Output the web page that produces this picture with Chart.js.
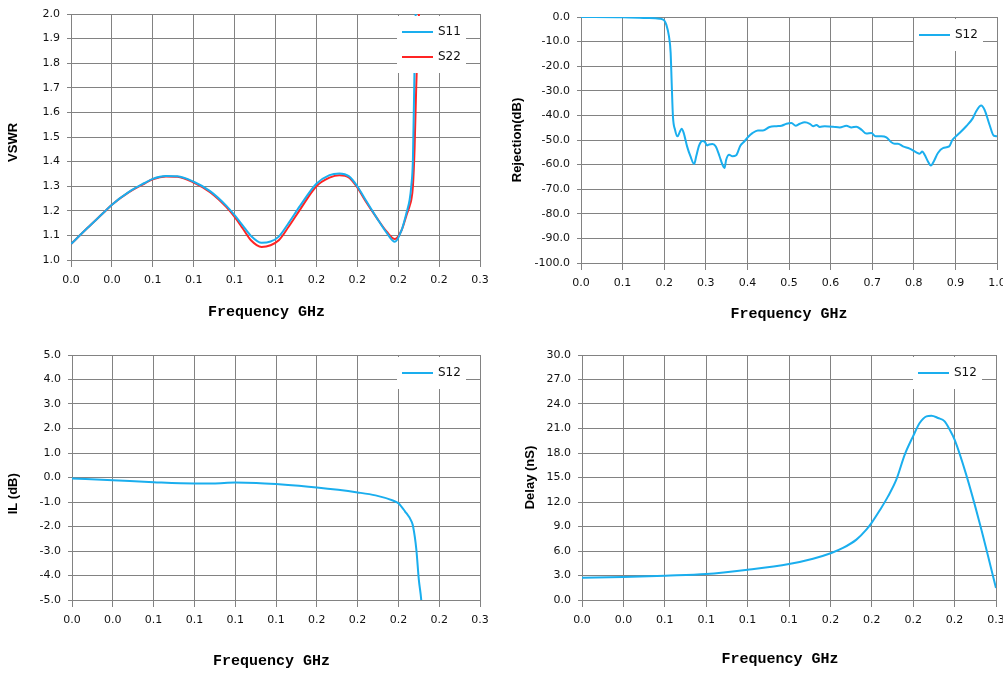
<!DOCTYPE html>
<html>
<head>
<meta charset="utf-8">
<script src="https://cdn.jsdelivr.net/npm/chart.js@4.4.0/dist/chart.umd.min.js"></script>
<style>
  html, body { margin: 0; padding: 0; background: #fff; overflow: hidden; }
  .panel { position: absolute; }
</style>
</head>
<body>
<div class="panel" style="left:0;top:0;width:500px;height:336px"><canvas id="vswrChart"></canvas></div>
<div class="panel" style="left:500px;top:0;width:503px;height:336px"><canvas id="rejChart"></canvas></div>
<div class="panel" style="left:0;top:340px;width:500px;height:333px"><canvas id="ilChart"></canvas></div>
<div class="panel" style="left:500px;top:340px;width:503px;height:333px"><canvas id="delayChart"></canvas></div>
<script>
// Tick values / labels (labels are rounded to one decimal like the original)
const narrowTickValues = [0, 0.025, 0.05, 0.075, 0.1, 0.125, 0.15, 0.175, 0.2, 0.225, 0.25];
const narrowTickLabels = ['0.0', '0.0', '0.1', '0.1', '0.1', '0.1', '0.2', '0.2', '0.2', '0.2', '0.3'];
const wideTickValues = [0, 0.1, 0.2, 0.3, 0.4, 0.5, 0.6, 0.7, 0.8, 0.9, 1.0];
const wideTickLabels = ['0.0', '0.1', '0.2', '0.3', '0.4', '0.5', '0.6', '0.7', '0.8', '0.9', '1.0'];

// VSWR
const vswrFreq = [0, 0.01, 0.02, 0.025, 0.035, 0.045, 0.05, 0.058, 0.065, 0.075, 0.085, 0.095, 0.1, 0.105, 0.11, 0.1165, 0.122, 0.127, 0.133, 0.14, 0.15, 0.158, 0.164, 0.17, 0.175, 0.18, 0.187, 0.193, 0.198, 0.202, 0.205, 0.207, 0.208, 0.209, 0.21, 0.211, 0.212, 0.213, 0.215];
const s11Vswr = [1.065, 1.13, 1.193, 1.225, 1.275, 1.313, 1.330, 1.341, 1.340, 1.318, 1.28, 1.22, 1.182, 1.14, 1.098, 1.070, 1.075, 1.095, 1.15, 1.22, 1.31, 1.345, 1.352, 1.34, 1.30, 1.245, 1.17, 1.11, 1.074, 1.12, 1.19, 1.245, 1.30, 1.41, 1.79, 2.1, 2.5, 2.9, 3.5];
const s22Vswr = [1.065, 1.13, 1.193, 1.225, 1.274, 1.311, 1.328, 1.339, 1.338, 1.315, 1.276, 1.215, 1.175, 1.128, 1.08, 1.053, 1.06, 1.08, 1.135, 1.205, 1.30, 1.335, 1.345, 1.335, 1.295, 1.24, 1.17, 1.115, 1.085, 1.12, 1.18, 1.22, 1.245, 1.30, 1.45, 1.70, 1.90, 2.05, 2.4];

// Rejection
const rejFreq = [0, 0.1, 0.157, 0.189, 0.2, 0.205, 0.2115, 0.2155, 0.218, 0.221,
  0.226, 0.232, 0.237, 0.242, 0.247, 0.255, 0.263, 0.272, 0.277, 0.284,
  0.292, 0.298, 0.303, 0.308, 0.316, 0.324, 0.333, 0.34, 0.345, 0.349,
  0.356, 0.364, 0.373, 0.383, 0.393, 0.401, 0.412, 0.425, 0.4375, 0.4535,
  0.47, 0.482, 0.494, 0.506, 0.516, 0.526, 0.538, 0.55, 0.558, 0.566,
  0.574, 0.586, 0.606, 0.622, 0.638, 0.65, 0.662, 0.674, 0.686, 0.698,
  0.708, 0.722, 0.734, 0.746, 0.754, 0.762, 0.774, 0.79, 0.806, 0.814,
  0.8205, 0.826, 0.834, 0.841, 0.848, 0.858, 0.87, 0.885, 0.893, 0.906,
  0.926, 0.942, 0.95, 0.962, 0.97, 0.982, 0.992, 1.0];
const rejS12 = [0, -0.1, -0.4, -0.7, -1.4, -3.1, -7.9, -14.6, -26.8, -40.4,
  -45.8, -48.5, -46.9, -45.4, -47.2, -52.6, -56.6, -59.8, -56.6, -52.2,
  -50.4, -50.8, -52.2, -51.8, -51.6, -52.6, -56.6, -60, -61.4, -58,
  -56, -56.6, -56.2, -52.3, -50.5, -48.9, -47.2, -46.1, -46.1, -44.7,
  -44.4, -44.2, -43.4, -43.1, -44.2, -43.4, -42.8, -43.4, -44.4, -43.9,
  -44.7, -44.4, -44.6, -44.9, -44.2, -44.9, -44.6, -45.8, -47.4, -47.2,
  -48.5, -48.5, -48.9, -50.9, -51.5, -51.5, -52.6, -53.5, -55.0, -55.6,
  -54.7, -56, -58.7, -60.4, -58.7, -55.3, -53.3, -52.6, -49.9, -47.8,
  -44.4, -41.1, -38.3, -36, -37.7, -43.8, -48.2, -48.5];

// Insertion loss
const ilFreq = [0, 0.025, 0.05, 0.075, 0.0864, 0.1, 0.113, 0.125, 0.15, 0.175, 0.186, 0.1966, 0.2, 0.204, 0.208, 0.209, 0.211, 0.2125, 0.214, 0.216];
const ilS12 = [-0.04, -0.11, -0.19, -0.24, -0.24, -0.2, -0.22, -0.27, -0.41, -0.61, -0.73, -0.94, -1.05, -1.38, -1.79, -2.0, -2.94, -4.16, -5.0, -7.0];

// Group delay
const delayFreq = [0, 0.0248, 0.0503, 0.075, 0.1, 0.125, 0.1395, 0.1506, 0.1576, 0.1657, 0.1717, 0.1751, 0.1798, 0.1848, 0.1898, 0.1949, 0.1999, 0.2039, 0.208, 0.211, 0.215, 0.219, 0.222, 0.225, 0.232, 0.2404, 0.25];
const delayS12 = [2.73, 2.82, 2.98, 3.18, 3.71, 4.41, 5.06, 5.76, 6.37, 7.39, 8.61, 9.51, 10.98, 12.69, 14.73, 17.8, 20.04, 21.67, 22.49, 22.57, 22.29, 21.88, 20.86, 19.63, 15.35, 9.22, 1.47];

const BLUE = '#1aaeee';
const RED = '#ff2424';
const GRID = '#828282';
const tickFont = { family: '"DejaVu Sans"', size: 11 };

// legend drawn inside the plot, top right, over the lines
const insideLegend = {
    id: 'insideLegend',
    afterDatasetsDraw(chart) {
        const { ctx, chartArea } = chart;
        const sets = chart.data.datasets;
        const right = chartArea.right - 14;
        const left = right - 69;
        const top = chartArea.top + 2;
        ctx.save();
        ctx.fillStyle = '#fff';
        ctx.fillRect(left, top, 69, 7 + 25 * sets.length);
        ctx.font = '12px "DejaVu Sans"';
        ctx.textBaseline = 'middle';
        sets.forEach((ds, i) => {
            const y = top + 16 + 25 * i;
            ctx.strokeStyle = ds.borderColor;
            ctx.lineWidth = 2;
            ctx.beginPath();
            ctx.moveTo(left + 5, y);
            ctx.lineTo(left + 36, y);
            ctx.stroke();
            ctx.fillStyle = '#111';
            ctx.fillText(ds.label, left + 41, y);
        });
        ctx.restore();
    }
};

function series(label, xs, ys, color) {
    return {
        label: label,
        data: xs.map((x, i) => ({ x: x, y: ys[i] })),
        borderColor: color,
        backgroundColor: color
    };
}

function makeChart(id, datasets, o) {
    return new Chart(document.getElementById(id), {
        type: 'line',
        data: { datasets: datasets },
        plugins: [insideLegend],
        options: {
            responsive: true,
            maintainAspectRatio: false,
            animation: false,
            layout: { padding: { top: o.padTop, right: o.padRight, left: 0, bottom: 0 } },
            plugins: { legend: { display: false }, tooltip: { enabled: false } },
            elements: {
                point: { radius: 0 },
                line: { borderWidth: 2, cubicInterpolationMode: 'monotone' }
            },
            scales: {
                x: {
                    type: 'linear',
                    min: o.xTicks[0],
                    max: o.xTicks[o.xTicks.length - 1],
                    afterBuildTicks: s => { s.ticks = o.xTicks.map(v => ({ value: v })); },
                    afterFit: s => { s.height = o.xHeight; s.paddingLeft = 0; s.paddingRight = 0; },
                    ticks: {
                        callback: (v, i) => o.xLabels[i],
                        maxRotation: 0, autoSkip: false, padding: 7,
                        color: '#111', font: tickFont
                    },
                    grid: { color: GRID, tickColor: GRID, tickLength: 7 },
                    border: { color: GRID },
                    title: {
                        // trailing spaces nudge the centred title left, as in the original
                        display: true, text: 'Frequency GHz' + ' '.repeat(o.xTitleShift), color: '#000',
                        font: { family: '"Liberation Mono"', size: 15, weight: 'bold' },
                        padding: { top: 0, bottom: o.xTitlePad }
                    }
                },
                y: {
                    min: o.yMin, max: o.yMax,
                    afterFit: s => { s.width = o.yWidth; s.paddingTop = 0; s.paddingBottom = 0; },
                    ticks: {
                        stepSize: o.yStep,
                        callback: v => Number(v).toFixed(1),
                        padding: 7, color: '#111', font: tickFont
                    },
                    grid: { color: GRID, tickColor: GRID, tickLength: 4 },
                    border: { color: GRID },
                    title: {
                        display: true, text: o.yTitle + ' '.repeat(o.yTitleShift), color: '#000',
                        font: { family: '"Liberation Sans"', size: 13, weight: 'bold' },
                        padding: { top: o.yTitlePad, bottom: 0 }
                    }
                }
            }
        }
    });
}

makeChart('vswrChart', [
    series('S11', vswrFreq, s11Vswr, BLUE),
    series('S22', vswrFreq, s22Vswr, RED)
], {
    padTop: 14, padRight: 20, xHeight: 76, yWidth: 71, xTitlePad: 15, yTitlePad: 6,
    xTicks: narrowTickValues, xLabels: narrowTickLabels, xTitleShift: 2,
    yMin: 1, yMax: 2, yStep: 0.1, yTitle: 'VSWR', yTitleShift: 3
});

makeChart('rejChart', [series('S12', rejFreq, rejS12, BLUE)], {
    padTop: 17, padRight: 6, xHeight: 73, yWidth: 81, xTitlePad: 13, yTitlePad: 10,
    xTicks: wideTickValues, xLabels: wideTickLabels, xTitleShift: 0,
    yMin: -100, yMax: 0, yStep: 10, yTitle: 'Rejection(dB)', yTitleShift: 0
});

makeChart('ilChart', [series('S12', ilFreq, ilS12, BLUE)], {
    padTop: 15, padRight: 20, xHeight: 73, yWidth: 72, xTitlePad: 3, yTitlePad: 6,
    xTicks: narrowTickValues, xLabels: narrowTickLabels, xTitleShift: 1,
    yMin: -5, yMax: 5, yStep: 1, yTitle: 'IL (dB)', yTitleShift: 9
});

makeChart('delayChart', [series('S12', delayFreq, delayS12, BLUE)], {
    padTop: 15, padRight: 7, xHeight: 73, yWidth: 82, xTitlePad: 5, yTitlePad: 23,
    xTicks: narrowTickValues, xLabels: narrowTickLabels, xTitleShift: 2,
    yMin: 0, yMax: 30, yStep: 3, yTitle: 'Delay (nS)', yTitleShift: 0
});
</script>
</body>
</html>
